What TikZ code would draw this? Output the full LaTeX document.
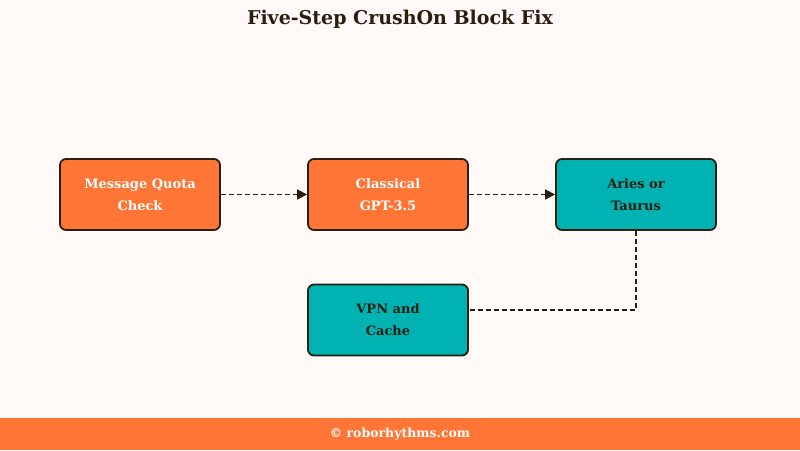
\documentclass[tikz,border=0pt]{standalone}
\usepackage{fontspec}
\setmainfont{DejaVu Serif}
\usetikzlibrary{arrows.meta}
\definecolor{bg}{HTML}{FFFAF8}
\definecolor{orng}{HTML}{FF7535}
\definecolor{teal}{HTML}{00B2B2}
\definecolor{ink}{HTML}{2A1E10}
\tikzset{
 box/.style={draw=ink,line width=1.8pt,rounded corners=6pt,minimum width=160pt,minimum height=71pt,align=center,font=\bfseries\fontsize{13}{22}\selectfont},
 obox/.style={box,fill=orng,text=white},
 tbox/.style={box,fill=teal,text=ink},
 conn/.style={draw=ink,line width=1.5pt,dash pattern=on 5pt off 3pt},
 arr/.style={conn,-{Triangle[length=10pt,width=10pt]}}
}
\begin{document}
\begin{tikzpicture}[x=1pt,y=-1pt]
\fill[bg] (0,0) rectangle (800,450);
\useasboundingbox (0,0) rectangle (800,450);
\fill[orng] (0,418) rectangle (800,450);
\node[text=ink,font=\bfseries\fontsize{19}{22}\selectfont] (title) at (400,19) {Five-Step CrushOn Block Fix};
\node[text=white,font=\bfseries\fontsize{12.5}{14}\selectfont] (foot) at (400,434) {© roborhythms.com};
\node[obox] (a) at (140,194.5) {Message Quota\\Check};
\node[obox] (b) at (388,194.5) {Classical\\GPT-3.5};
\node[tbox] (c) at (636,194.5) {Aries or\\Taurus};
\node[tbox] (d) at (388,320) {VPN and\\Cache};
\coordinate (bend) at (636,310);
\draw[arr] (a) -- (b);
\draw[arr] (b) -- (c);
\draw[conn] (c.south) -- (bend) -- (d.east |- bend);
\end{tikzpicture}
\end{document}
